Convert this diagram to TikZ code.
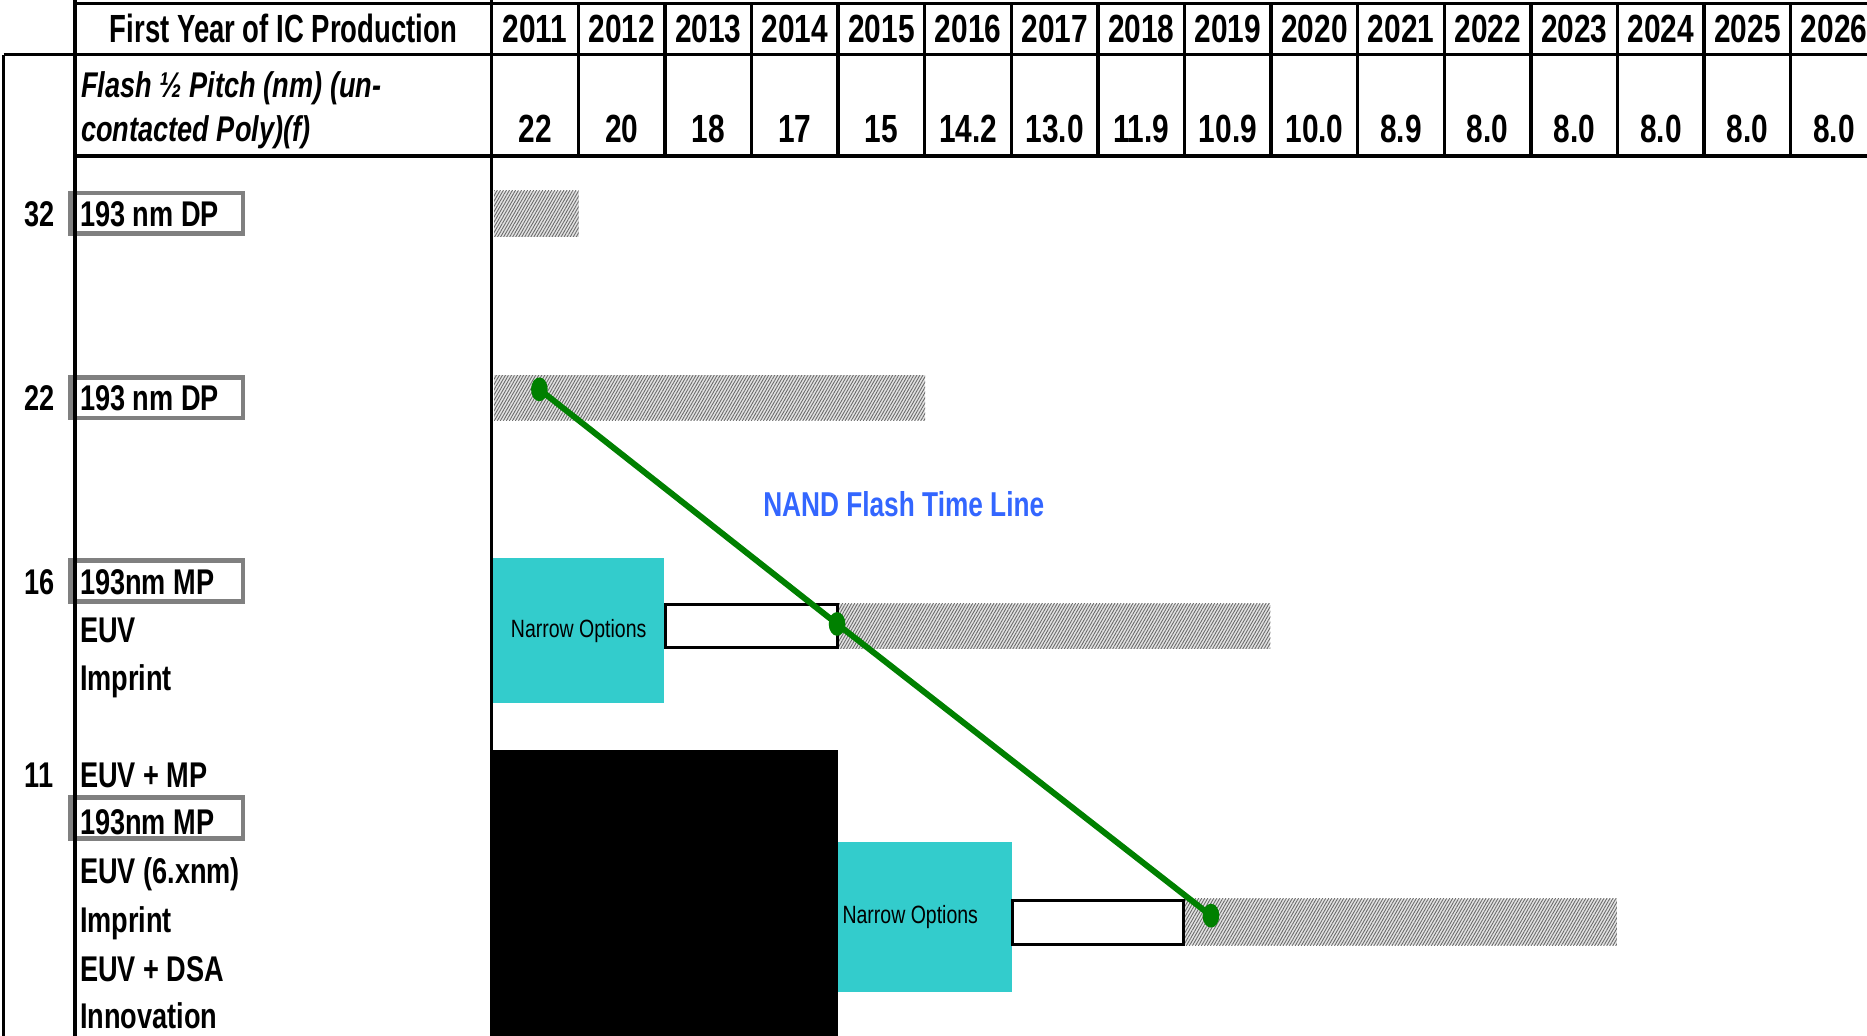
\documentclass[tikz,border=0pt]{standalone}
\usepackage{fontspec}
\setmainfont{Liberation Sans}[FakeStretch=0.76]
\newfontfamily\titlefont{Liberation Sans}[FakeStretch=0.7]
\newfontfamily\optfont{Liberation Sans}[FakeStretch=0.78]
\usetikzlibrary{patterns.meta,shapes.geometric}
\definecolor{lgreen}{RGB}{0,128,0}
\definecolor{tealbox}{RGB}{51,204,204}
\definecolor{nandblue}{RGB}{51,102,255}
\definecolor{boxgray}{RGB}{128,128,128}
\begin{document}
\begin{tikzpicture}[x=1pt,y=-1pt,
  hdr/.style={font=\fontsize{33}{38}\selectfont\bfseries, anchor=base, inner sep=0pt},
  lbl/.style={font=\fontsize{30}{34}\selectfont\bfseries, anchor=base west, inner sep=0pt},
  rownum/.style={font=\fontsize{30}{34}\selectfont\bfseries, anchor=base, inner sep=0pt},
  flashlbl/.style={font=\fontsize{30}{34}\selectfont\bfseries\itshape, anchor=base west, inner sep=0pt},
  gridline/.style={line width=2.8pt},
  hatchfill/.style={pattern={Lines[angle=60,distance=2.2pt,line width=0.75pt]}, pattern color=black!58},
  hatchbase/.style={fill=gray!22},
  labelbox/.style={draw=boxgray, line width=4pt},
  optbox/.style={fill=tealbox},
  emptybox/.style={draw=black, line width=2.5pt, fill=white},
  narrow/.style={font=\optfont\fontsize{21}{24}\selectfont, inner sep=0pt},
  dotnode/.style={ellipse, fill=lgreen, minimum width=14pt, minimum height=20pt, inner sep=0pt},
  timeline/.style={draw=lgreen, line width=5pt}
]
\clip (0,0) rectangle (1568,870);
\fill[white] (0,0) rectangle (1568,870);

% hatched bars
\foreach \xa/\xb/\ya/\yb in {415/486/160/199, 415/777/315/353, 704/1067/507/545, 995/1358/755/794}{
  \path[hatchbase] (\xa,\ya) rectangle (\xb,\yb);
  \path[hatchfill] (\xa,\ya) rectangle (\xb,\yb);
}

% option boxes
\path[optbox] (414,469) rectangle (558,590);
\path[optbox] (704,707) rectangle (850,833);
\fill[black] (413,630) rectangle (704,870);
\path[emptybox] (559,508) rectangle (703,544);
\path[emptybox] (850,756) rectangle (994,793);

% gray label boxes
\draw[labelbox] (59,162) rectangle (204,196);
\draw[labelbox] (59,317) rectangle (204,351);
\draw[labelbox] (59,471) rectangle (204,505);
\draw[labelbox] (59,670) rectangle (204,704);

% grid
\draw[gridline] (63,3) -- (1568,3);
\draw[gridline] (3,46) -- (1568,46);
\draw[line width=3.6pt] (63,131) -- (1568,131);
\draw[gridline] (3,46) -- (3,870);
\draw[gridline] (63,0) -- (63,870);
\draw[gridline] (413,0) -- (413,870);
\foreach \i in {1,...,15}{
  \draw[gridline] ({413+72.73*\i},3) -- ({413+72.73*\i},131);
}

% header texts
\node[hdr, font=\titlefont\fontsize{33}{38}\selectfont\bfseries] (title) at (238,36) {First Year of IC Production};
\foreach \yr [count=\i from 0] in {2011,2012,2013,2014,2015,2016,2017,2018,2019,2020,2021,2022,2023,2024,2025,2026}{
  \node[hdr] (yr\i) at ({413+72.73*(\i+0.5)},36) {\yr};
}
\node[flashlbl] (flash1) at (68,82) {Flash ½ Pitch (nm) (un-};
\node[flashlbl] (flash2) at (68,119) {contacted Poly)(f)};
\foreach \v [count=\i from 0] in {22,20,18,17,15,14.2,13.0,11.9,10.9,10.0,8.9,8.0,8.0,8.0,8.0,8.0}{
  \node[hdr] (hp\i) at ({413+72.73*(\i+0.5)},120) {\v};
}

% row numbers
\node[rownum] (n32) at (33,190) {32};
\node[rownum] (n22) at (33,345) {22};
\node[rownum] (n16) at (33,499) {16};
\node[rownum] (n11) at (33,661) {11};

% row labels
\node[lbl] (l32) at (67,190) {193 nm DP};
\node[lbl] (l22) at (67,345) {193 nm DP};
\node[lbl] (l16a) at (67,499) {193nm MP};
\node[lbl] (l16b) at (67,539.5) {EUV};
\node[lbl] (l16c) at (67,580) {Imprint};
\node[lbl] (l11a) at (67,661) {EUV + MP};
\node[lbl] (l11b) at (67,701) {193nm MP};
\node[lbl] (l11c) at (67,742) {EUV (6.xnm)};
\node[lbl] (l11d) at (67,783) {Imprint};
\node[lbl] (l11e) at (67,824) {EUV + DSA};
\node[lbl] (l11f) at (67,864) {Innovation};

% narrow options
\node[narrow] (opt1) at (486,530) {Narrow Options};
\node[narrow] (opt2) at (764.5,770) {Narrow Options};

% timeline
\node[font=\fontsize{29}{34}\selectfont\bfseries, text=nandblue, anchor=base, inner sep=0pt] (nand) at (759,434) {NAND Flash Time Line};
\node[dotnode] (d1) at (453,327) {};
\node[dotnode] (d2) at (703,524) {};
\node[dotnode] (d3) at (1017,769) {};
\draw[timeline] (d1.center) -- (d2.center) -- (d3.center);
\end{tikzpicture}
\end{document}
